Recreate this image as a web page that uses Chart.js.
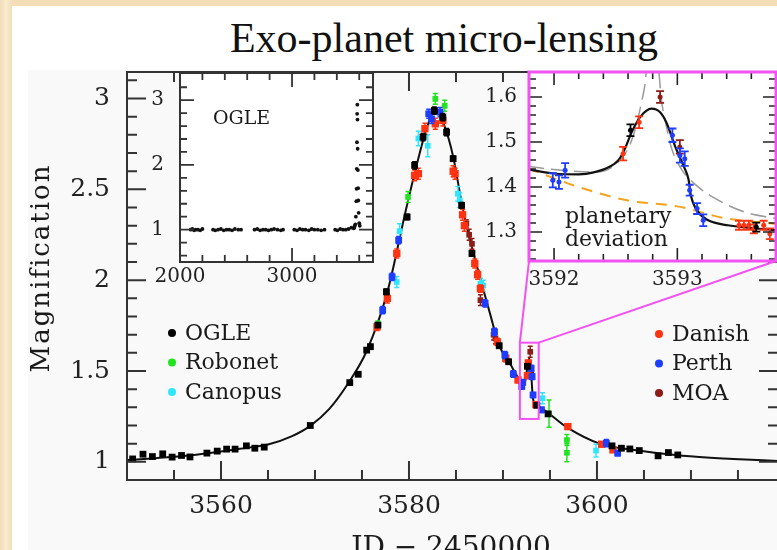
<!DOCTYPE html>
<html>
<head>
<meta charset="utf-8">
<title>Exo-planet micro-lensing</title>
<script src="https://cdn.jsdelivr.net/npm/chart.js@4.4.1/dist/chart.umd.min.js"></script>
<style>
  html, body { margin: 0; padding: 0; }
  body { width: 777px; height: 550px; overflow: hidden; position: relative;
         background: linear-gradient(90deg, #f2ddb6, #f8ebd0 6px, #f2ddb6 12px); }
  #slide { position: absolute; left: 12px; top: 6px; width: 800px; height: 560px; background: #fff; }
  #fig { position: absolute; left: 28px; top: 70px; width: 800px; height: 500px; background: #f9f9f9; }
  #title { position: absolute; left: 0; top: 14px; width: 888px; text-align: center; line-height: 48px;
           font-size: 42px; font-family: 'Liberation Serif', 'Times New Roman', serif; color: #111; }
  canvas { position: absolute; }
  #main { left: 0; top: 0; }
  #ogle { left: 120px; top: 60px; }
  #zoom { left: 470px; top: 60px; }
</style>
</head>
<body>
<div id="slide"></div>
<div id="fig"></div>
<div id="title">Exo-planet micro-lensing</div>
<canvas id="main" width="790" height="550"></canvas>
<canvas id="ogle" width="270" height="240"></canvas>
<canvas id="zoom" width="310" height="240"></canvas>
<script>
// ---- main light curve, JD - 2450000 vs magnification
const ogleT = [3550.6, 3551.7, 3552.7, 3553.8, 3554.8, 3555.8, 3556.7, 3558.5, 3559.6, 3560.6, 3561.5, 3562.7, 3563.6, 3564.6,
  3569.5, 3573.7, 3574.6, 3575.5, 3575.9, 3576.7, 3577.6, 3579.8, 3580.6, 3581.5, 3582.7, 3583.6, 3584.0, 3584.7, 3585.6, 3586.7,
  3589.6, 3590.6, 3592.6, 3593.6, 3594.8, 3601.6, 3602.6, 3603.5, 3604.5, 3606.5, 3607.6, 3608.6];
const ogleA = [1.016, 1.042, 1.029, 1.044, 1.026, 1.035, 1.027, 1.048, 1.059, 1.070, 1.070, 1.088, 1.075, 1.081,
  1.200, 1.436, 1.482, 1.615, 1.634, 1.753, 1.936, 2.348, 2.632, 2.788, 2.934, 2.897, 2.815, 2.669, 2.412, 2.147,
  1.639, 1.551, 1.526, 1.311, 1.264, 1.088, 1.075, 1.071, 1.062, 1.033, 1.051, 1.038];
const ogleE = [0.012, 0.008, 0.008, 0.008, 0.008, 0.008, 0.008, 0.008, 0.008, 0.008, 0.008, 0.008, 0.008, 0.008,
  0.01, 0.01, 0.01, 0.012, 0.012, 0.012, 0.015, 0.015, 0.02, 0.02, 0.02, 0.02, 0.02, 0.015, 0.015, 0.015,
  0.012, 0.012, 0.012, 0.01, 0.01, 0.008, 0.008, 0.008, 0.008, 0.008, 0.008, 0.008];

const danishT = [3576.6, 3577.7, 3578.7, 3580.6, 3581.0, 3581.7, 3582.8, 3583.6, 3584.7, 3584.9, 3585.7, 3585.9, 3587.0, 3587.3,
  3587.6, 3589.4, 3590.3, 3591.6, 3592.6, 3592.7, 3593.5, 3596.9, 3600.5, 3601.7];
const danishA = [1.743, 1.900, 2.147, 2.577, 2.586, 2.834, 2.861, 2.879, 2.600, 2.586, 2.360, 2.300, 2.092, 2.030,
  1.954, 1.660, 1.570, 1.451, 1.474, 1.544, 1.315, 1.194, 1.097, 1.066];
const danishE = [0.02, 0.025, 0.025, 0.03, 0.03, 0.03, 0.03, 0.03, 0.03, 0.03, 0.03, 0.03, 0.025, 0.025,
  0.02, 0.02, 0.02, 0.015, 0.015, 0.015, 0.012, 0.012, 0.012, 0.012];

const perthT = [3577.2, 3578.2, 3578.9, 3582.1, 3582.4, 3583.3, 3588.1, 3589.1, 3590.2, 3591.1, 3592.0, 3592.1, 3593.0,
  3593.1, 3593.2, 3594.1, 3601.0, 3602.2];
const perthA = [1.835, 2.018, 2.220, 2.916, 2.888, 2.925, 1.872, 1.716, 1.588, 1.484, 1.415, 1.437, 1.515,
  1.469, 1.368, 1.286, 1.103, 1.048];
const perthE = [0.02, 0.02, 0.02, 0.025, 0.025, 0.025, 0.02, 0.02, 0.02, 0.018, 0.016, 0.016, 0.016,
  0.016, 0.014, 0.014, 0.02, 0.015];

const robonetT = [3576.7, 3579.9, 3582.8, 3583.8, 3594.9, 3596.8, 3596.8];
const robonetA = [1.755, 2.458, 2.998, 2.960, 1.265, 1.120, 1.050];
const robonetE = [0.02, 0.03, 0.03, 0.03, 0.075, 0.03, 0.05];

const canopusT = [3578.7, 3579.0, 3581.0, 3582.0, 3585.2, 3585.4, 3587.6, 3587.9, 3594.2, 3599.9];
const canopusA = [1.990, 2.270, 2.780, 2.740, 2.476, 2.440, 1.980, 1.970, 1.350, 1.062];
const canopusE = [0.03, 0.04, 0.04, 0.06, 0.04, 0.04, 0.03, 0.03, 0.03, 0.035];

const moaT = [3586.1, 3586.4, 3586.7, 3587.6, 3589.0, 3589.2, 3592.9, 3593.0];
const moaA = [2.312, 2.250, 2.200, 1.890, 1.700, 1.680, 1.606, 1.489];
const moaE = [0.02, 0.03, 0.03, 0.03, 0.03, 0.03, 0.03, 0.02];

const modelT = [3550, 3553, 3556, 3559, 3562, 3565, 3567.5, 3569.5, 3571.5, 3573.5, 3575.5, 3577.7, 3579.6, 3580.9,
  3581.9, 3582.8, 3583.8, 3584.7, 3585.7, 3586.8, 3587.9, 3588.6, 3589.6, 3590.7, 3591.8, 3592.3, 3592.6, 3592.8,
  3593.0, 3593.2, 3593.9, 3596.8, 3600.3, 3603.8, 3609.1, 3614.5, 3619.3];
const modelA = [1.010, 1.020, 1.032, 1.050, 1.072, 1.095, 1.140, 1.198, 1.290, 1.430, 1.610, 1.935, 2.370, 2.650,
  2.840, 2.935, 2.845, 2.680, 2.400, 2.160, 1.950, 1.820, 1.640, 1.545, 1.450, 1.430, 1.522, 1.572,
  1.485, 1.344, 1.300, 1.190, 1.100, 1.066, 1.033, 1.016, 1.005];

// ---- OGLE long baseline (left inset)
const baseT = [2095, 2110, 2125, 2140, 2160, 2180, 2200,
  2295, 2315, 2340, 2365, 2390, 2415, 2440, 2465, 2490, 2520, 2545,
  2665, 2690, 2715, 2740, 2765, 2790, 2815, 2840, 2870, 2900, 2920,
  3020, 3045, 3070, 3095, 3120, 3150, 3175, 3200, 3230, 3260, 3290,
  3385, 3405, 3430, 3455, 3480, 3505, 3530,
  3550, 3556, 3560, 3565, 3570, 3574, 3576, 3578, 3580, 3581.5, 3583, 3584.5, 3586, 3588, 3590, 3592, 3595, 3600, 3605];
const baseA = [1.00, 1.01, 0.99, 1.00, 1.00, 0.99, 1.01,
  1.00, 0.99, 1.00, 1.01, 0.99, 1.00, 1.00, 0.99, 1.01, 1.00, 1.00,
  1.00, 1.01, 0.99, 1.00, 1.00, 0.99, 1.00, 1.01, 1.00, 0.99, 1.00,
  1.00, 0.99, 1.01, 1.00, 1.00, 0.99, 1.01, 1.00, 1.00, 0.99, 1.00,
  1.00, 0.99, 1.01, 1.00, 1.00, 1.01, 1.03,
  1.02, 1.03, 1.06, 1.08, 1.20, 1.44, 1.63, 1.94, 2.35, 2.79, 2.93, 2.70, 2.25, 1.92, 1.64, 1.45, 1.26, 1.10, 1.06];

// ---- planetary deviation close-up (right inset)
const zPerthT = [3591.99, 3592.04, 3592.09, 3592.96, 3593.02, 3593.06, 3593.10, 3593.16, 3593.21];
const zPerthA = [1.415, 1.411, 1.437, 1.515, 1.470, 1.463, 1.393, 1.352, 1.326];
const zPerthE = [0.016, 0.015, 0.016, 0.015, 0.016, 0.016, 0.012, 0.012, 0.013];
const zDanishT = [3592.56, 3592.69, 3593.50, 3593.54, 3593.58, 3593.62, 3593.70, 3593.75];
const zDanishA = [1.474, 1.544, 1.315, 1.315, 1.315, 1.307, 1.315, 1.296];
const zDanishE = [0.015, 0.013, 0.01, 0.01, 0.01, 0.01, 0.01, 0.012];
const zOgleT = [3592.62, 3593.64];
const zOgleA = [1.526, 1.311];
const zOgleE = [0.013, 0.01];
const zMoaT = [3592.86, 3593.02];
const zMoaA = [1.600, 1.489];
const zMoaE = [0.013, 0.015];

const zModelT = [3591.79, 3592.00, 3592.20, 3592.33, 3592.45, 3592.52, 3592.57, 3592.63, 3592.70, 3592.79, 3592.86,
  3592.91, 3592.99, 3593.06, 3593.09, 3593.11, 3593.17, 3593.25, 3593.41, 3593.60, 3593.80];
const zModelA = [1.439, 1.430, 1.428, 1.433, 1.445, 1.459, 1.482, 1.522, 1.556, 1.574, 1.566,
  1.544, 1.485, 1.441, 1.418, 1.381, 1.344, 1.326, 1.315, 1.309, 1.304];
const zSingleT = [3591.79, 3592.2, 3592.6, 3593.0, 3593.4, 3593.8];
const zSingleA = [1.441, 1.400, 1.370, 1.357, 1.330, 1.318];
const zAltT = [3591.79, 3592.06, 3592.33, 3592.49, 3592.60, 3592.66, 3592.71, 3592.74, 3592.77, 3592.81, 3592.85,
  3592.87, 3592.91, 3592.95, 3593.03, 3593.14, 3593.31, 3593.55, 3593.80];
const zAltA = [1.446, 1.437, 1.433, 1.448, 1.485, 1.530, 1.589, 1.633, 1.72, 1.72, 1.656,
  1.596, 1.537, 1.489, 1.441, 1.407, 1.374, 1.344, 1.330];

// ---- tick labels
const mainXTicks = [3560, 3580, 3600];
const mainYTicks = [1, 1.5, 2, 2.5, 3];
const ogleXTicks = [2000, 3000];
const ogleYTicks = [1, 2, 3];
const zoomXTicks = [3592, 3593];
const zoomYTicks = [1.3, 1.4, 1.5, 1.6];
const zoomBoxT = [3591.8, 3593.8];
const zoomBoxA = [1.236, 1.656];

const observatories = ['OGLE', 'Robonet', 'Canopus', 'Danish', 'Perth', 'MOA'];
const colors = { OGLE: '#000000', Robonet: '#1fe41f', Canopus: '#30e6ff', Danish: '#ff3312', Perth: '#1f3dff', MOA: '#8a1d16' };
const MAGENTA = '#f252f2';
const ZOOM_AREA = { left: 529, top: 72, right: 776, bottom: 261 }; // page px of the close-up panel

Chart.defaults.font.family = "'DejaVu Serif', serif";
Chart.defaults.color = '#222';
Chart.defaults.animation = false;

const pts = (xs, ys) => xs.map((x, i) => ({ x, y: ys[i] }));

function axis(min, max, labels, size, padding, fit, horizontal) {
  return {
    type: 'linear', min, max,
    grid: { display: false, drawTicks: false },
    border: { display: false },
    ticks: { padding, autoSkip: false, maxRotation: 0, font: { size }, color: '#222', callback: v => String(v) },
    afterBuildTicks: s => { s.ticks = labels.map(value => ({ value })); },
    afterFit: s => {
      if (horizontal) s.height = fit; else s.width = fit;
      // keep the plot area exactly where the layout padding puts it
      s.paddingTop = s.paddingBottom = s.paddingLeft = s.paddingRight = 0;
    }
  };
}

// frame with inward ticks on all four sides
function makeFrame(cfg) {
  const major = (v, list) => list.some(m => Math.abs(m - v) < 1e-6);
  const steps = (s, step) => {
    const out = [];
    for (let n = Math.ceil(s.min / step - 1e-6); n * step <= s.max + 1e-9; n++) out.push(n * step);
    return out;
  };
  return {
    id: 'frame',
    beforeDatasetsDraw(chart) {
      if (!cfg.fill) return;
      const { ctx, chartArea: a } = chart;
      ctx.save();
      ctx.fillStyle = cfg.fill;
      ctx.fillRect(a.left, a.top, a.right - a.left, a.bottom - a.top);
      ctx.restore();
    },
    afterDatasetsDraw(chart) {
      const { ctx, chartArea: a, scales: { x, y } } = chart;
      ctx.save();
      ctx.strokeStyle = cfg.tickColor;
      ctx.lineWidth = cfg.tickWidth;
      ctx.beginPath();
      steps(x, cfg.xStep).forEach(v => {
        const p = x.getPixelForValue(v);
        if (p < a.left + 1.5 || p > a.right - 1.5) return;
        const len = major(v, cfg.xMajor) ? cfg.major : cfg.minor;
        ctx.moveTo(p, a.bottom); ctx.lineTo(p, a.bottom - len);
        ctx.moveTo(p, a.top); ctx.lineTo(p, a.top + len);
      });
      steps(y, cfg.yStep).forEach(v => {
        const p = y.getPixelForValue(v);
        if (p < a.top + 1.5 || p > a.bottom - 1.5) return;
        const len = major(v, cfg.yMajor) ? cfg.major : cfg.minor;
        ctx.moveTo(a.left, p); ctx.lineTo(a.left + len, p);
        ctx.moveTo(a.right, p); ctx.lineTo(a.right - len, p);
      });
      ctx.stroke();
      ctx.strokeStyle = cfg.border;
      ctx.lineWidth = cfg.borderWidth;
      ctx.strokeRect(a.left, a.top, a.right - a.left, a.bottom - a.top);
      ctx.restore();
    }
  };
}

function makeErrorBars(width, cap) {
  return {
    id: 'errorBars',
    beforeDatasetDraw(chart, args) {
      const ds = chart.data.datasets[args.index];
      if (!ds.errors) return;
      const { ctx, chartArea: a, scales: { y } } = chart;
      ctx.save();
      ctx.beginPath();
      ctx.rect(a.left, a.top, a.right - a.left, a.bottom - a.top);
      ctx.clip();
      ctx.strokeStyle = ds.backgroundColor;
      ctx.lineWidth = width;
      ctx.beginPath();
      args.meta.data.forEach((pt, i) => {
        const v = ds.data[i].y, e = ds.errors[i];
        const y1 = y.getPixelForValue(v + e), y2 = y.getPixelForValue(v - e);
        ctx.moveTo(pt.x, y1); ctx.lineTo(pt.x, y2);
        ctx.moveTo(pt.x - cap, y1); ctx.lineTo(pt.x + cap, y1);
        ctx.moveTo(pt.x - cap, y2); ctx.lineTo(pt.x + cap, y2);
      });
      ctx.stroke();
      ctx.restore();
    }
  };
}

function makeNote(lines, size) {
  return {
    id: 'note',
    afterDraw(chart) {
      const { ctx, chartArea: a } = chart;
      ctx.save();
      ctx.fillStyle = '#1a1a1a';
      ctx.font = size + "px 'DejaVu Serif'";
      ctx.textBaseline = 'middle';
      lines.forEach(([text, dx, dy]) => ctx.fillText(text, a.left + dx, a.top + dy));
      ctx.restore();
    }
  };
}

const decor = {
  id: 'decor',
  afterDraw(chart) {
    const { ctx, scales: { x, y } } = chart;
    ctx.save();
    // zoom box and its connectors to the close-up panel
    const l = x.getPixelForValue(zoomBoxT[0]), r = x.getPixelForValue(zoomBoxT[1]);
    const t = y.getPixelForValue(zoomBoxA[1]), b = y.getPixelForValue(zoomBoxA[0]);
    ctx.strokeStyle = MAGENTA;
    ctx.lineWidth = 2;
    ctx.strokeRect(l, t, r - l, b - t);
    ctx.beginPath();
    ctx.moveTo(l, t); ctx.lineTo(ZOOM_AREA.left, ZOOM_AREA.bottom);
    ctx.moveTo(r, t); ctx.lineTo(ZOOM_AREA.right, ZOOM_AREA.bottom);
    ctx.stroke();

    // legend, two columns of three
    ctx.font = "22px 'DejaVu Serif'";
    ctx.textBaseline = 'middle';
    observatories.forEach((name, i) => {
      const col = i < 3 ? { x: 172, y: 333 } : { x: 659, y: 334 };
      const yy = col.y + (i % 3) * 29.5;
      ctx.fillStyle = colors[name];
      ctx.beginPath();
      ctx.arc(col.x, yy, 4, 0, Math.PI * 2);
      ctx.fill();
      ctx.fillStyle = '#1a1a1a';
      ctx.fillText(name, col.x + 13, yy + 1);
    });

    // axis titles
    ctx.fillStyle = '#1a1a1a';
    ctx.font = "28px 'DejaVu Serif'";
    ctx.textAlign = 'center';
    ctx.textBaseline = 'alphabetic';
    ctx.fillText('JD \u2212 2450000', 451, 556);
    ctx.translate(42, 268);
    ctx.rotate(-Math.PI / 2);
    ctx.font = "26px 'DejaVu Serif'";
    ctx.letterSpacing = '2px';
    ctx.textBaseline = 'middle';
    ctx.fillText('Magnification', 0, 0);
    ctx.restore();
  }
};

const obsSet = (name, t, a, e, style, radius) => ({
  label: name, data: pts(t, a), errors: e,
  backgroundColor: colors[name], borderColor: colors[name],
  pointStyle: style, pointRadius: radius, pointBorderWidth: 0, showLine: false
});

const baseOptions = (padding, xAxis, yAxis) => ({
  responsive: false, devicePixelRatio: 1, animation: false, events: [],
  layout: { padding },
  plugins: { legend: { display: false }, tooltip: { enabled: false } },
  scales: { x: xAxis, y: yAxis }
});

// ---- main chart
new Chart(document.getElementById('main'), {
  type: 'scatter',
  data: {
    datasets: [
      obsSet('OGLE', ogleT, ogleA, ogleE, 'rect', 4.8),
      obsSet('Perth', perthT, perthA, perthE, 'rect', 4.8),
      obsSet('Danish', danishT, danishA, danishE, 'rect', 5.2),
      obsSet('MOA', moaT, moaA, moaE, 'rect', 4),
      obsSet('Canopus', canopusT, canopusA, canopusE, 'rect', 4),
      obsSet('Robonet', robonetT, robonetA, robonetE, 'rect', 4),
      { label: 'model', data: pts(modelT, modelA), showLine: true, borderColor: '#111', borderWidth: 2,
        pointRadius: 0, cubicInterpolationMode: 'monotone', fill: false }
    ]
  },
  options: baseOptions({ left: 0, top: 72, right: 12, bottom: 0 },
    axis(3550, 3619.26, mainXTicks, 25, 11, 70, true),
    axis(0.9, 3.146, mainYTicks, 25, 17, 127, false)),
  plugins: [
    makeFrame({ xStep: 5, yStep: 0.1, xMajor: mainXTicks, yMajor: mainYTicks, major: 19, minor: 10,
      tickColor: '#333', tickWidth: 2, border: '#333', borderWidth: 2 }),
    makeErrorBars(1.5, 2.5),
    decor
  ]
});

// ---- OGLE baseline inset
new Chart(document.getElementById('ogle'), {
  type: 'scatter',
  data: {
    datasets: [{ label: 'OGLE', data: pts(baseT, baseA), backgroundColor: '#111', borderColor: '#111',
      pointRadius: 1.9, pointBorderWidth: 0, showLine: false }]
  },
  options: baseOptions({ left: 0, top: 13, right: 17, bottom: 0 },
    axis(2000, 3723, ogleXTicks, 20, 3, 38, true),
    axis(0.5, 3.42, ogleYTicks, 20, 16, 60, false)),
  plugins: [
    makeFrame({ fill: '#ffffff', xStep: 200, yStep: 0.2, xMajor: ogleXTicks, yMajor: ogleYTicks, major: 14, minor: 7,
      tickColor: '#333', tickWidth: 1.8, border: '#333', borderWidth: 2 }),
    makeNote([['OGLE', 33, 46]], 19)
  ]
});

// ---- planetary deviation close-up
new Chart(document.getElementById('zoom'), {
  type: 'scatter',
  data: {
    datasets: [
      obsSet('OGLE', zOgleT, zOgleA, zOgleE, 'circle', 2.5),
      obsSet('Perth', zPerthT, zPerthA, zPerthE, 'circle', 2.5),
      obsSet('Danish', zDanishT, zDanishA, zDanishE, 'circle', 2.5),
      obsSet('MOA', zMoaT, zMoaA, zMoaE, 'circle', 2.5),
      { label: 'planet model', data: pts(zModelT, zModelA), showLine: true, borderColor: '#111', borderWidth: 2.2,
        pointRadius: 0, cubicInterpolationMode: 'monotone', fill: false },
      { label: 'single lens', data: pts(zSingleT, zSingleA), showLine: true, borderColor: '#f5a21c', borderWidth: 2,
        borderDash: [11, 8], pointRadius: 0, cubicInterpolationMode: 'monotone', fill: false },
      { label: 'alternative', data: pts(zAltT, zAltA), showLine: true, borderColor: '#9a9a9a', borderWidth: 1.5,
        borderDash: [16, 7], pointRadius: 0, cubicInterpolationMode: 'monotone', fill: false }
    ]
  },
  options: baseOptions({ left: 0, top: 12, right: 4, bottom: 0 },
    axis(3591.797, 3593.80, zoomXTicks, 20, 7, 39, true),
    axis(1.2356, 1.6556, zoomYTicks, 20, 12, 59, false)),
  plugins: [
    makeFrame({ fill: '#ffffff', xStep: 0.2, yStep: 0.02, xMajor: zoomXTicks, yMajor: zoomYTicks, major: 13, minor: 7,
      tickColor: '#222', tickWidth: 1.6, border: MAGENTA, borderWidth: 3 }),
    makeErrorBars(1.8, 4),
    makeNote([['planetary', 36, 145], ['deviation', 36, 168]], 22)
  ]
});
</script>
</body>
</html>
